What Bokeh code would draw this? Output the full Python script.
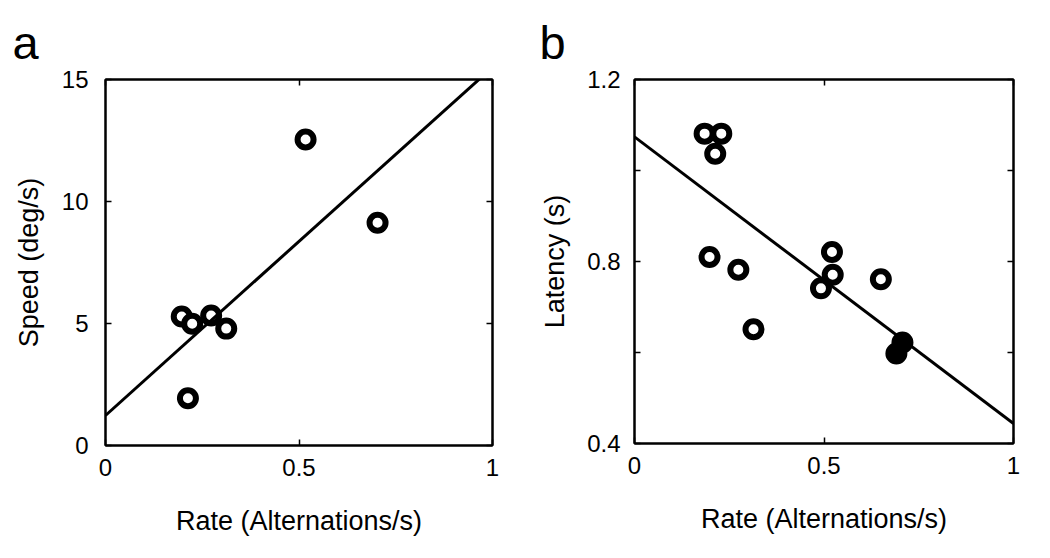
from bokeh.plotting import figure
from bokeh.layouts import row
from bokeh.models import Range1d, LinearAxis, FixedTicker
from bokeh.embed import file_html
from bokeh.resources import INLINE

# Panel a: speed vs alternation rate
rate_a = [0.197, 0.224, 0.273, 0.312, 0.213, 0.517, 0.703]
speed_a = [5.29, 4.99, 5.33, 4.79, 1.94, 12.54, 9.13]
fit_a_x = [0.0, 1.0]
fit_a_y = [1.23, 15.5]

# Panel b: latency vs alternation rate
rate_b_open = [0.185, 0.229, 0.213, 0.198, 0.274, 0.314, 0.492, 0.521, 0.523, 0.650]
lat_b_open = [1.081, 1.081, 1.037, 0.810, 0.782, 0.651, 0.741, 0.821, 0.771, 0.761]
rate_b_fill = [0.691, 0.707]
lat_b_fill = [0.598, 0.622]
fit_b_x = [0.0, 1.0]
fit_b_y = [1.074, 0.444]

x_ticks = [0, 0.5, 1]
a_y_ticks = [0, 5, 10, 15]
b_y_major = [0.4, 0.8, 1.2]
b_y_minor = [0.6, 1.0]

FONT = "Liberation Sans"
TICK_SIZE = "24px"
LABEL_SIZE = "27px"


def style_axis(ax, ticker, show_labels=True, standoff=13):
    ax.ticker = ticker
    ax.axis_line_color = "black"
    ax.axis_line_width = 2
    ax.major_tick_in = 6
    ax.major_tick_out = 0
    ax.minor_tick_in = 6
    ax.minor_tick_out = 0
    ax.major_tick_line_color = "black"
    ax.major_tick_line_width = 1.5
    ax.minor_tick_line_color = "black"
    ax.minor_tick_line_width = 1.5
    ax.major_label_text_font = FONT
    ax.major_label_standoff = standoff
    ax.axis_label_text_font = FONT
    ax.axis_label_text_font_size = LABEL_SIZE
    ax.axis_label_text_font_style = "normal"
    ax.axis_label_text_color = "black"
    if show_labels:
        ax.major_label_text_font_size = TICK_SIZE
        ax.major_label_text_color = "black"
    else:
        ax.major_label_text_font_size = "1px"
        ax.major_label_text_color = None


def make_panel(width, height, fw, fh, left, right, top, bottom, xr, yr, letter, offset):
    p = figure(width=width, height=height, frame_width=fw, frame_height=fh,
               x_range=xr, y_range=yr, output_backend="svg",
               toolbar_location=None, min_border_left=left,
               min_border_right=right, min_border_top=top,
               min_border_bottom=bottom, title=letter)
    p.xgrid.visible = False
    p.ygrid.visible = False
    p.outline_line_color = "black"
    p.outline_line_width = 2
    p.background_fill_color = "white"
    p.border_fill_color = "white"
    p.title.text_font = FONT
    p.title.text_font_size = "47px"
    p.title.text_font_style = "normal"
    p.title.text_color = "black"
    p.title.align = "left"
    p.title.offset = offset
    p.title.standoff = 22
    return p


# ---- Panel a ----
pa = make_panel(528, 550, 387, 366, 105, 36, 79, 105,
                Range1d(0, 1), Range1d(0, 15), "a", -93)
style_axis(pa.xaxis[0], FixedTicker(ticks=x_ticks, minor_ticks=[]), standoff=13)
style_axis(pa.yaxis[0], FixedTicker(ticks=a_y_ticks, minor_ticks=[]), standoff=17)
pa.xaxis[0].major_label_overrides = {0: "0", 0.5: "0.5", 1: "1"}
pa.xaxis[0].axis_label = "Rate (Alternations/s)"
pa.xaxis[0].axis_label_standoff = 27
pa.yaxis[0].axis_label = "Speed (deg/s)"
pa.yaxis[0].axis_label_standoff = 15
ra = LinearAxis()
style_axis(ra, FixedTicker(ticks=a_y_ticks, minor_ticks=[]), show_labels=False, standoff=0)
pa.add_layout(ra, "right")
ta = LinearAxis()
style_axis(ta, FixedTicker(ticks=x_ticks, minor_ticks=[]), show_labels=False, standoff=0)
pa.add_layout(ta, "above")

pa.scatter(rate_a, speed_a, marker="circle", size=16, line_width=6,
           line_color="black", fill_color="white")
pa.line(fit_a_x, fit_a_y, line_color="black", line_width=3)

# ---- Panel b ----
pb = make_panel(514, 550, 379, 364, 106, 29, 79, 107,
                Range1d(0, 1), Range1d(0.4, 1.2), "b", -95)
style_axis(pb.xaxis[0], FixedTicker(ticks=x_ticks, minor_ticks=[]), standoff=13)
style_axis(pb.yaxis[0], FixedTicker(ticks=b_y_major, minor_ticks=b_y_minor), standoff=14)
pb.xaxis[0].major_label_overrides = {0: "0", 0.5: "0.5", 1: "1"}
pb.xaxis[0].axis_label = "Rate (Alternations/s)"
pb.xaxis[0].axis_label_standoff = 27
pb.yaxis[0].axis_label = "Latency (s)"
pb.yaxis[0].axis_label_standoff = 14
rb = LinearAxis()
style_axis(rb, FixedTicker(ticks=b_y_major, minor_ticks=b_y_minor), show_labels=False, standoff=0)
pb.add_layout(rb, "right")
tb = LinearAxis()
style_axis(tb, FixedTicker(ticks=x_ticks, minor_ticks=[]), show_labels=False, standoff=0)
pb.add_layout(tb, "above")

pb.scatter(rate_b_open, lat_b_open, marker="circle", size=16, line_width=6,
           line_color="black", fill_color="white")
pb.scatter(rate_b_fill, lat_b_fill, marker="circle", size=16, line_width=6,
           line_color="black", fill_color="black")
pb.line(fit_b_x, fit_b_y, line_color="black", line_width=3)

layout = row(pa, pb, spacing=0)
open("out.html", "w").write(file_html(layout, INLINE))
